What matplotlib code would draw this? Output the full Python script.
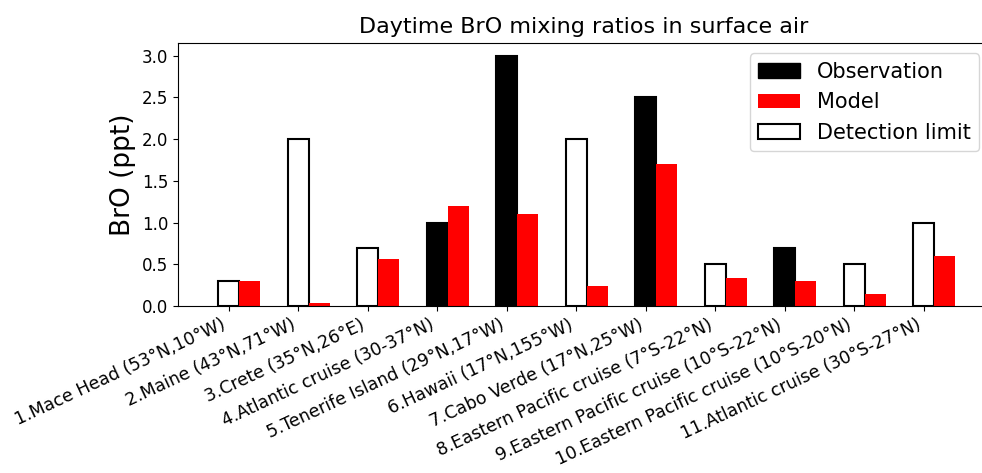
# -*- coding:utf-8 -*-

import matplotlib
matplotlib.use('Agg')
import matplotlib.pyplot as plt
import numpy as np
from matplotlib.patches import Patch

# 站点名称
site_list = ['1.Mace Head (53°N,10°W)', '2.Maine (43°N,71°W)', '3.Crete (35°N,26°E)',
             '4.Atlantic cruise (30-37°N)', '5.Tenerife Island (29°N,17°W)',
             '6.Hawaii (17°N,155°W)', '7.Cabo Verde (17°N,25°W)',
             '8.Eastern Pacific cruise (7°S-22°N)', '9.Eastern Pacific cruise (10°S-22°N)',
             '10.Eastern Pacific cruise (10°S-20°N)', '11.Atlantic cruise (30°S-27°N)']
# 观测值(或检测限)
obs_list = [0.3, 2.0, 0.7, 1.0, 3.0, 2.0, 2.5, 0.5, 0.7, 0.5, 1.0]
# 是否为检测限
below_dl = [True, True, True, False, False, True, False, True, False, True, True]
# 模式值
model_list = [0.30, 0.035, 0.56, 1.2, 1.1, 0.24, 1.7, 0.33, 0.30, 0.15, 0.60]


def main():
    fig = plt.figure(figsize=(9.82, 4.73), dpi=100)
    ax = fig.add_axes([0.1813, 0.353, 0.826, 0.556])

    x = np.arange(len(site_list))
    width = 0.3
    obs_colors = ['white' if d else 'black' for d in below_dl]
    ax.bar(x, obs_list, width, color=obs_colors, edgecolor='black', linewidth=1.5)
    ax.bar(x + width, model_list, width, color='red')

    ax.set_xlim(-0.73, 10.94)
    ax.set_ylim(0, 3.15)
    ax.set_xticks(x)
    ax.set_xticklabels(site_list, rotation=25, ha='right', fontsize=12.5)
    ax.tick_params(axis='y', labelsize=12)
    ax.set_ylabel('BrO (ppt)', fontsize=19)
    ax.set_title('Daytime BrO mixing ratios in surface air', fontsize=16, pad=7)
    # 原图右侧被裁掉
    ax.spines['right'].set_visible(False)

    handles = [Patch(facecolor='black', edgecolor='black', label='Observation'),
               Patch(facecolor='red', label='Model'),
               Patch(facecolor='white', edgecolor='black', linewidth=1.5, label='Detection limit')]
    ax.legend(handles=handles, loc='upper right', fontsize=15)

    plt.savefig('out.png', dpi=100)


if __name__ == "__main__":
    main()
